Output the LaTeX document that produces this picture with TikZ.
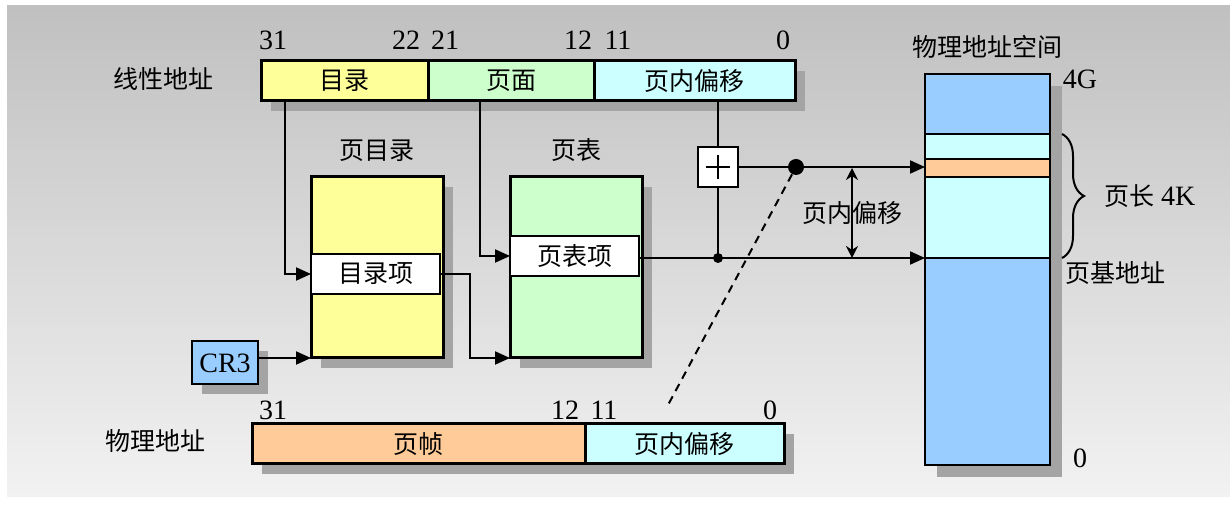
\documentclass[tikz,border=0pt]{standalone}
\usepackage{fontspec}
\setmainfont{Liberation Serif}
\newfontfamily\cjk{Noto Sans CJK SC}
\usetikzlibrary{arrows.meta, positioning, calc, shadows, decorations.pathreplacing}

\definecolor{diryellow}{HTML}{FFFF99}
\definecolor{pagegreen}{HTML}{CCFFCC}
\definecolor{offcyan}{HTML}{CCFFFF}
\definecolor{frameorange}{HTML}{FFCC99}
\definecolor{memblue}{HTML}{99CCFF}
\definecolor{shadowgray}{HTML}{A4A4A4}
\definecolor{bgtop}{HTML}{C0C0C0}
\definecolor{bgbottom}{HTML}{F2F2F2}

\begin{document}
\begin{tikzpicture}[
            x=0.5pt, y=-0.5pt,
            font=\fontsize{14}{16}\selectfont,
            shadow_style/.style={general shadow={shadow xshift=5pt, shadow yshift=-5pt, fill=shadowgray}},
            field_style/.style={rectangle, draw, line width=1.5pt, outer sep=0pt, inner sep=0pt, minimum height=20pt, anchor=north west, font=\cjk\fontsize{12.5}{15}\selectfont},
            table_style/.style={rectangle, draw, line width=1.5pt, outer sep=0pt, minimum width=66pt, minimum height=90.5pt, anchor=north west, shadow_style},
            entry_style/.style={rectangle, draw, fill=white, line width=1pt, outer sep=0pt, inner sep=0pt, minimum width=64.5pt, minimum height=20pt, anchor=west, font=\cjk\fontsize{12.5}{15}\selectfont},
            mem_style/.style={rectangle, draw, line width=1.2pt, outer sep=0pt, minimum width=62.5pt, anchor=north west},
            label_style/.style={font=\cjk\fontsize{12.5}{15}\selectfont},
            dot_big/.style={circle, fill, inner sep=0pt, minimum size=8pt},
            dot_small/.style={circle, fill, inner sep=0pt, minimum size=5pt},
            line/.style={-{Triangle[length=7.5pt, width=6.5pt]}, line width=1pt}
        ]

        % background
        \useasboundingbox (0,0) rectangle (1230,506);
        \fill[top color=bgtop, bottom color=bgbottom] (7,6) rectangle (1230,497);

        % linear address
        \node (lin) [label_style] at (163,79) {线性地址};
        \node (dirf) [field_style, fill=diryellow, minimum width=83.5pt, shadow_style] at (261,61) {目录};
        \node (pagef) [field_style, fill=pagegreen, minimum width=83pt, shadow_style, right=0pt of dirf] {页面};
        \node (offf) [field_style, fill=offcyan, minimum width=100.5pt, shadow_style, right=0pt of pagef] {页内偏移};
        \node (l31) at (273,40) {31};
        \node (l22) at (406,40) {22};
        \node (l21) at (445,40) {21};
        \node (l12) at (578,40) {12};
        \node (l11) at (618,40) {11};
        \node (l0) at (783,40) {0};

        % page directory and page table
        \node (pdir) [table_style, fill=diryellow] at (311,177) {};
        \node (pdirlabel) [label_style, above=4pt of pdir] {页目录};
        \node (dentry) [entry_style] at (311,274) {目录项};
        \node (ptab) [table_style, fill=pagegreen] at (510,177) {};
        \node (ptablabel) [label_style, above=4pt of ptab] {页表};
        \node (pentry) [entry_style] at (510,256) {页表项};
        \node (cr3) [rectangle, draw, line width=1pt, fill=memblue, inner sep=0pt, minimum width=33pt, minimum height=21.5pt, shadow_style] at (225,363) {CR3};

        % adder
        \node (plus) [rectangle, draw, fill=white, line width=1pt, minimum size=20pt,
            path picture={
                \draw[line width=0.9pt] ([xshift=-6pt]path picture bounding box.center) -- ([xshift=6pt]path picture bounding box.center);
                \draw[line width=0.9pt] ([yshift=-6pt]path picture bounding box.center) -- ([yshift=6pt]path picture bounding box.center);
            }] at (718,167) {};

        % physical address space
        \node (mem) [mem_style, fill=memblue, minimum height=195.5pt, general shadow={shadow xshift=6pt, shadow yshift=-6pt, fill=shadowgray}] at (925,74) {};
        \node (pagereg) [mem_style, fill=offcyan, minimum height=62pt] at (925,134) {};
        \node (band) [mem_style, fill=frameorange, minimum height=9pt] at (925,159) {};
        \node (memlabel) [label_style, above=4pt of mem] {物理地址空间};
        \node (top4g) at (1080,79) {4G};
        \node (bot0) at (1080,458) {0};
        \node (pagesize) [anchor=west] at ($(pagereg.east)+(47,0)$) {{\cjk\fontsize{12.5}{15}\selectfont 页长} 4K};
        \node (pagebase) [label_style] at (1115,273) {页基地址};
        \draw[line width=1pt, decorate, decoration={brace, amplitude=11pt}] ($(pagereg.north east)+(12,0)$) -- ($(pagereg.south east)+(12,0)$);

        % physical address
        \node (phys) [label_style] at (155,441) {物理地址};
        \node (framef) [field_style, fill=frameorange, minimum width=166.5pt, shadow_style] at (252,424) {页帧};
        \node (poff) [field_style, fill=offcyan, minimum width=99.5pt, shadow_style, right=0pt of framef] {页内偏移};
        \node (p31) at (273,410) {31};
        \node (p12) at (565,410) {12};
        \node (p11) at (604,410) {11};
        \node (p0) at (770,410) {0};

        % connectors
        \draw [line] ($(dirf.south west)+(24,0)$) |- (dentry.west);
        \draw [line] ($(pagef.south west)+(52,0)$) |- (pentry.west);
        \draw [line] (dentry.east) -- ++(30,0) |- (ptab.south west);
        \draw [line] (cr3.east |- pdir.south west) -- (pdir.south west);
        \draw [line width=1pt] (plus.north |- offf.south) -- (plus.north);
        \draw [line width=1pt] (plus.south) -- (plus.south |- pagereg.south west);
        \node (join) [dot_small] at (plus.south |- pagereg.south west) {};
        \draw [line] (pentry.east |- pagereg.south west) -- (pagereg.south west);
        \draw [line] (plus.east) -- (plus.east -| band.west);
        \node (sumdot) [dot_big] at (796,167) {};
        \coordinate (dashend) at (668,405);
        \draw [dashed, dash pattern=on 4pt off 3pt, line width=1pt] (sumdot) -- (dashend);

        % offset span
        \coordinate (offtop) at (852,168);
        \draw [{Stealth[length=6pt, width=6pt]}-{Stealth[length=6pt, width=6pt]}, line width=1pt] (offtop) -- (offtop |- pagereg.south west) node [midway, label_style] {页内偏移};

    \end{tikzpicture}
\end{document}
